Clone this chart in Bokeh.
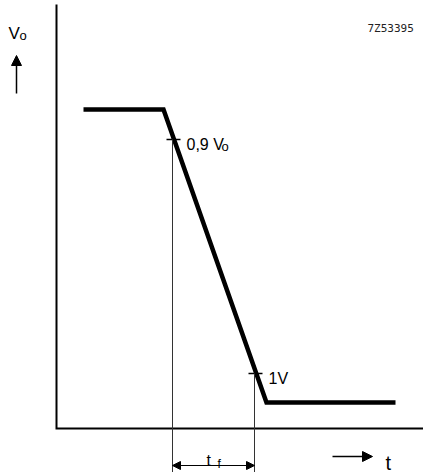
from bokeh.plotting import figure
from bokeh.models import Range1d, Arrow, NormalHead
from bokeh.core.properties import value
from bokeh.embed import file_html
from bokeh.resources import INLINE

FONT = value("Liberation Sans")
INK = "#000000"

# ---- data (drawing units: time along t, voltage along v) ----
# output waveform Vo(t)
wave_t = [27, 107, 210, 339]
wave_v = [319, 319, 26, 26]

# axes (time axis and voltage axis meeting at origin)
axes_t = [0, 0, 370]
axes_v = [424, 0, 0]

# level markers on the falling edge: 0,9 Vo and 1V
mark_t = [117, 199]
mark_v = [289, 55]
mark_labels = ["0,9 V", "1V"]
label_t = [130, 212]
label_v = [284, 50]
guide_t = [116, 198]
guide_bottom = [-50, -50]

# fall time dimension
tf_start, tf_end, tf_level = 116, 198, -37

# axis arrows
vo_arrow_t = [-40, -40]
vo_arrow_v = [335, 373]
t_arrow_t = [276, 316]
t_arrow_v = [-28, -28]

# ---- figure ----
p = figure(width=423, height=472, output_backend="svg", toolbar_location=None,
           x_range=Range1d(-56, 367), y_range=Range1d(-44, 428),
           x_axis_type=None, y_axis_type=None, min_border=0)
p.grid.visible = False
p.outline_line_color = None
p.background_fill_color = "white"
p.border_fill_color = "white"

# axes
p.line(axes_t, axes_v, line_color=INK, line_width=2, line_join="miter")

# waveform
p.line(wave_t, wave_v, line_color=INK, line_width=4.5,
       line_join="miter", line_cap="butt")

# tick marks at the levels
p.segment(x0=[t - 7 for t in mark_t], y0=mark_v, x1=[t + 7 for t in mark_t], y1=mark_v,
          line_color=INK, line_width=1.3)
# thin vertical guides
p.segment(x0=guide_t, y0=mark_v, x1=guide_t, y1=guide_bottom,
          line_color="#333333", line_width=1)

# level labels
p.text(x=label_t, y=label_v, text=mark_labels, text_font=FONT, text_font_size="16px",
       text_baseline="alphabetic", text_align="left", text_color=INK)
p.text(x=[165], y=[282], text=["o"], text_font=FONT, text_font_size="13px",
       text_baseline="alphabetic", text_align="left", text_color=INK)

# Vo axis label and arrow
p.text(x=[-48], y=[395], text=["V"], text_font=FONT, text_font_size="17px",
       text_baseline="alphabetic", text_align="left", text_color=INK)
p.text(x=[-37], y=[393], text=["o"], text_font=FONT, text_font_size="13px",
       text_baseline="alphabetic", text_align="left", text_color=INK)
p.add_layout(Arrow(x_start=vo_arrow_t[0], y_start=vo_arrow_v[0],
                   x_end=vo_arrow_t[1], y_end=vo_arrow_v[1],
                   line_width=1.5, line_color=INK,
                   end=NormalHead(size=10, fill_color=INK, line_color=INK)))

# t axis label and arrow
p.add_layout(Arrow(x_start=t_arrow_t[0], y_start=t_arrow_v[0],
                   x_end=t_arrow_t[1], y_end=t_arrow_v[1],
                   line_width=1.5, line_color=INK,
                   end=NormalHead(size=10, fill_color=INK, line_color=INK)))
p.text(x=[329], y=[-34], text=["t"], text_font=FONT, text_font_size="20px",
       text_baseline="alphabetic", text_align="left", text_color=INK)

# fall time dimension
p.add_layout(Arrow(x_start=tf_start, y_start=tf_level, x_end=tf_end, y_end=tf_level,
                   line_width=1.2, line_color=INK,
                   start=NormalHead(size=8, fill_color=INK, line_color=INK),
                   end=NormalHead(size=8, fill_color=INK, line_color=INK)))
p.text(x=[150], y=[-32], text=["t"], text_font=FONT, text_font_size="16px",
       text_baseline="alphabetic", text_align="left", text_color=INK)
p.text(x=[161], y=[-35], text=["f"], text_font=FONT, text_font_size="12px",
       text_baseline="alphabetic", text_align="left", text_color=INK)

# drawing reference number
p.text(x=[311], y=[400], text=["7Z53395"], text_font=value("DejaVu Sans Mono"),
       text_font_size="11px", text_baseline="alphabetic", text_align="left",
       text_color="#222222")

open("out.html", "w").write(file_html(p, INLINE))
